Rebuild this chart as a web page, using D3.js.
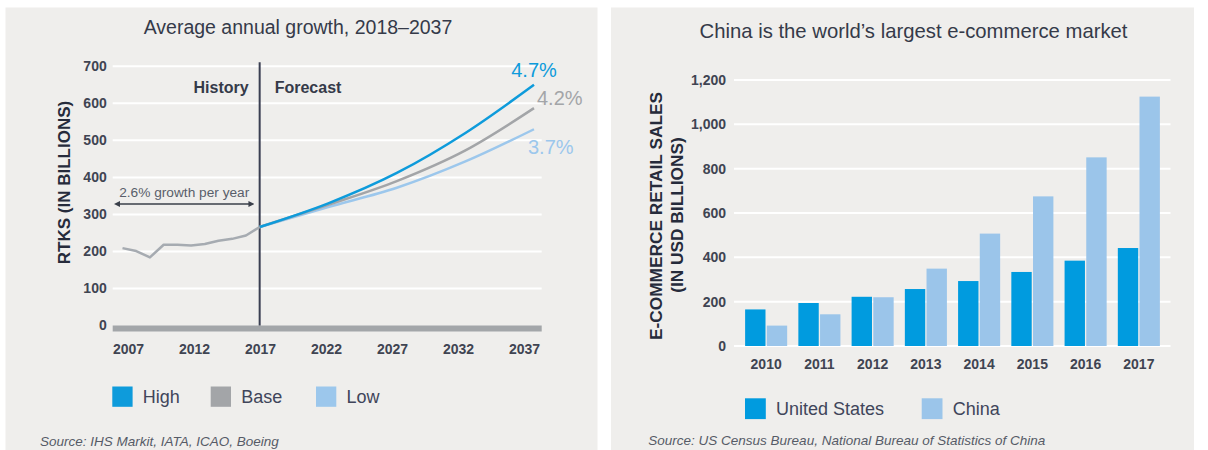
<!DOCTYPE html>
<html>
<head>
<meta charset="utf-8">
<script src="https://cdn.jsdelivr.net/npm/d3@7"></script>
<style>
  body { margin: 0; background: #ffffff; }
  svg { display: block; font-family: "Liberation Sans", Arial, Helvetica, sans-serif; }
</style>
</head>
<body>
<svg id="chart" width="1208" height="450"></svg>
<script>
// ---- Left panel: air cargo traffic (RTKs, billions) ----
const historyYears = [2007, 2008, 2009, 2010, 2011, 2012, 2013, 2014, 2015, 2016, 2017];
const historyRTK   = [209, 201, 184, 218, 218, 216, 220, 229, 234, 243, 266];
const forecastYears = [2017, 2022, 2027, 2032, 2037];
const highRTK = [266, 330, 412, 520, 650];
const baseRTK = [266, 326, 390, 473, 587];
const lowRTK  = [266, 320, 372, 443, 530];
const scenarioNames = ["High", "Base", "Low"];
const scenarioRates = ["4.7%", "4.2%", "3.7%"];
const rtkTicks = [0, 100, 200, 300, 400, 500, 600, 700];
const yearTickLabels = ["2007", "2012", "2017", "2022", "2027", "2032", "2037"];

// ---- Right panel: e-commerce retail sales (USD billions) ----
const salesYears = ["2010", "2011", "2012", "2013", "2014", "2015", "2016", "2017"];
const usSales    = [165, 194, 222, 257, 293, 334, 385, 442];
const chinaSales = [92, 143, 220, 349, 507, 675, 851, 1125];
const countryNames = ["United States", "China"];
const salesTicks = [0, 200, 400, 600, 800, 1000, 1200];

const svg = d3.select("#chart");
const PANEL = "#efeeec";
const INK = "#353a49";
const TICK = "#3f4452";

// panel backgrounds
svg.append("rect").attr("x", 5.5).attr("y", 7.5).attr("width", 592).attr("height", 443).attr("fill", PANEL);
svg.append("rect").attr("x", 611).attr("y", 7.5).attr("width", 583).attr("height", 443).attr("fill", PANEL);

/* ================= LEFT CHART ================= */
const scenColors = ["#0e9bdb", "#a3a5a8", "#9cc7ec"];
const scenData = [highRTK, baseRTK, lowRTK];

const x = d3.scaleLinear().domain([2007, 2037]).range([122.5, 534]);
const xLab = d3.scalePoint().domain(yearTickLabels).range([128, 524]);
const y = d3.scaleLinear().domain([0, 700]).range([325.5, 66.3]);

const L = svg.append("g");

L.append("text")
  .attr("x", 298).attr("y", 33.5)
  .attr("text-anchor", "middle")
  .attr("font-size", 19.5).attr("fill", INK)
  .text("Average annual growth, 2018\u20132037");

// gridlines
L.append("g").selectAll("line")
  .data(rtkTicks.filter(d => d > 0))
  .join("line")
  .attr("x1", 112.7).attr("x2", 541.7)
  .attr("y1", d => y(d)).attr("y2", d => y(d))
  .attr("stroke", "#ffffff").attr("stroke-width", 2);

// zero baseline bar
L.append("rect")
  .attr("x", 112.7).attr("width", 541.7 - 112.7)
  .attr("y", y(0)).attr("height", 6)
  .attr("fill", "#a3a6a9");

// y axis
const yAxisL = L.append("g")
  .attr("transform", "translate(112.7,0)")
  .call(d3.axisLeft(y).tickValues(rtkTicks).tickSize(0).tickPadding(6));
yAxisL.select(".domain").remove();
yAxisL.selectAll("text")
  .attr("font-family", "Liberation Sans, Arial, sans-serif")
  .attr("font-size", 14).attr("font-weight", "bold").attr("fill", TICK);

// x axis
const xAxisL = L.append("g")
  .attr("transform", "translate(0,331)")
  .call(d3.axisBottom(xLab).tickSize(0).tickPadding(13));
xAxisL.select(".domain").remove();
xAxisL.selectAll("text")
  .attr("font-family", "Liberation Sans, Arial, sans-serif")
  .attr("font-size", 14).attr("font-weight", "bold").attr("fill", TICK);

// y title
L.append("text")
  .attr("transform", "translate(70,182.5) rotate(-90)")
  .attr("text-anchor", "middle")
  .attr("font-size", 17).attr("font-weight", "bold").attr("fill", "#262b3b")
  .text("RTKS (IN BILLIONS)");

// history / forecast divider
L.append("line")
  .attr("x1", x(2017)).attr("x2", x(2017))
  .attr("y1", y(700) - 4).attr("y2", y(0))
  .attr("stroke", "#3a3f52").attr("stroke-width", 2);

L.append("text")
  .attr("x", x(2017) - 11).attr("y", 93)
  .attr("text-anchor", "end")
  .attr("font-size", 16).attr("font-weight", "bold").attr("fill", INK)
  .text("History");
L.append("text")
  .attr("x", x(2017) + 15).attr("y", 93)
  .attr("font-size", 16).attr("font-weight", "bold").attr("fill", INK)
  .text("Forecast");

// growth annotation arrow
const defs = svg.append("defs");
["start", "end"].forEach(k => {
  defs.append("marker")
    .attr("id", "arrow-" + k)
    .attr("viewBox", "0 0 10 10")
    .attr("refX", 5).attr("refY", 5)
    .attr("markerWidth", 4).attr("markerHeight", 4)
    .attr("orient", k === "start" ? "auto-start-reverse" : "auto")
    .append("path").attr("d", "M0,0L10,5L0,10z").attr("fill", "#3a3f4a");
});
L.append("line")
  .attr("x1", x(2006.6)).attr("x2", x(2016.4))
  .attr("y1", 204).attr("y2", 204)
  .attr("stroke", "#3a3f4a").attr("stroke-width", 1.5)
  .attr("marker-start", "url(#arrow-start)")
  .attr("marker-end", "url(#arrow-end)");
L.append("text")
  .attr("x", (x(2006.6) + x(2016.4)) / 2).attr("y", 196.5)
  .attr("text-anchor", "middle")
  .attr("font-size", 13.7).attr("fill", "#595e6a")
  .text("2.6% growth per year");

// scenario lines (low drawn first so high sits on top)
const lineGen = d3.line().x(d => x(d[0])).y(d => y(d[1])).curve(d3.curveMonotoneX);
[2, 1, 0].forEach(i => {
  L.append("path")
    .datum(forecastYears.map((yr, j) => [yr, scenData[i][j]]))
    .attr("d", lineGen)
    .attr("fill", "none")
    .attr("stroke", scenColors[i]).attr("stroke-width", 2.5);
});

// history line
L.append("path")
  .datum(historyYears.map((yr, j) => [yr, historyRTK[j]]))
  .attr("d", d3.line().x(d => x(d[0])).y(d => y(d[1])))
  .attr("fill", "none")
  .attr("stroke", "#a6abb1").attr("stroke-width", 2.5)
  .attr("stroke-linejoin", "round");

// end-of-line growth rates
const rateOffsets = [
  { dx: 0, dy: -8, anchor: "middle" },
  { dx: 3, dy: -3, anchor: "start" },
  { dx: -6, dy: 24.5, anchor: "start" }
];
scenarioRates.forEach((r, i) => {
  const last = scenData[i][scenData[i].length - 1];
  L.append("text")
    .attr("x", x(2037) + rateOffsets[i].dx)
    .attr("y", y(last) + rateOffsets[i].dy)
    .attr("text-anchor", rateOffsets[i].anchor)
    .attr("font-size", 20).attr("fill", scenColors[i])
    .text(r);
});

// legend
const legL = L.append("g");
const legLx = [112.3, 210.7, 316];
scenarioNames.forEach((n, i) => {
  legL.append("rect")
    .attr("x", legLx[i]).attr("y", 386.5)
    .attr("width", 20.3).attr("height", 20.3)
    .attr("fill", scenColors[i]);
  legL.append("text")
    .attr("x", legLx[i] + 30.5).attr("y", 396.5)
    .attr("dy", "0.35em")
    .attr("font-size", 18).attr("fill", "#40455a")
    .text(n);
});

L.append("text")
  .attr("x", 40).attr("y", 446)
  .attr("font-size", 13.5).attr("font-style", "italic").attr("fill", "#565b67")
  .text("Source: IHS Markit, IATA, ICAO, Boeing");

/* ================= RIGHT CHART ================= */
const barColors = ["#009bdf", "#9bc5ea"];
const salesData = [usSales, chinaSales];

const xb = d3.scaleBand().domain(salesYears).range([735, 1170]).paddingInner(0.21).paddingOuter(0.19);
const xs = d3.scaleBand().domain(countryNames).range([0, xb.bandwidth()]).paddingInner(0.06);
const yb = d3.scaleLinear().domain([0, 1200]).range([346, 80]);

const R = svg.append("g");

R.append("text")
  .attr("x", 913.5).attr("y", 38)
  .attr("text-anchor", "middle")
  .attr("font-size", 20.3).attr("fill", INK)
  .text("China is the world\u2019s largest e-commerce market");

R.append("g").selectAll("line")
  .data(salesTicks)
  .join("line")
  .attr("x1", 734).attr("x2", 1170.5)
  .attr("y1", d => yb(d)).attr("y2", d => yb(d))
  .attr("stroke", "#ffffff").attr("stroke-width", 2);

const yAxisR = R.append("g")
  .attr("transform", "translate(734,0)")
  .call(d3.axisLeft(yb).tickValues(salesTicks).tickSize(0).tickPadding(8).tickFormat(d3.format(",")));
yAxisR.select(".domain").remove();
yAxisR.selectAll("text")
  .attr("font-family", "Liberation Sans, Arial, sans-serif")
  .attr("font-size", 14).attr("font-weight", "bold").attr("fill", TICK);

const xAxisR = R.append("g")
  .attr("transform", "translate(0,346)")
  .call(d3.axisBottom(xb).tickSize(0).tickPadding(13));
xAxisR.select(".domain").remove();
xAxisR.selectAll("text")
  .attr("font-family", "Liberation Sans, Arial, sans-serif")
  .attr("font-size", 14).attr("font-weight", "bold").attr("fill", TICK);

// bars
countryNames.forEach((c, ci) => {
  R.append("g").selectAll("rect")
    .data(salesYears.map((yr, j) => ({ yr, v: salesData[ci][j] })))
    .join("rect")
    .attr("x", d => xb(d.yr) + xs(c))
    .attr("width", xs.bandwidth())
    .attr("y", d => yb(d.v))
    .attr("height", d => yb(0) - yb(d.v))
    .attr("fill", barColors[ci]);
});

// y title (two lines)
R.append("text")
  .attr("transform", "translate(662,216) rotate(-90)")
  .attr("text-anchor", "middle")
  .attr("font-size", 17.3).attr("font-weight", "bold").attr("fill", "#262b3b")
  .text("E-COMMERCE RETAIL SALES");
R.append("text")
  .attr("transform", "translate(683,215) rotate(-90)")
  .attr("text-anchor", "middle")
  .attr("font-size", 17.3).attr("font-weight", "bold").attr("fill", "#262b3b")
  .text("(IN USD BILLIONS)");

// legend
const legRx = [745, 921.7];
countryNames.forEach((n, i) => {
  R.append("rect")
    .attr("x", legRx[i]).attr("y", 398.3)
    .attr("width", 20.8).attr("height", 20.8)
    .attr("fill", barColors[i]);
  R.append("text")
    .attr("x", legRx[i] + 31).attr("y", 408.5)
    .attr("dy", "0.35em")
    .attr("font-size", 18).attr("fill", "#40455a")
    .text(n);
});

R.append("text")
  .attr("x", 648.3).attr("y", 444.5)
  .attr("font-size", 13.5).attr("font-style", "italic").attr("fill", "#565b67")
  .text("Source: US Census Bureau, National Bureau of Statistics of China");
</script>
</body>
</html>
